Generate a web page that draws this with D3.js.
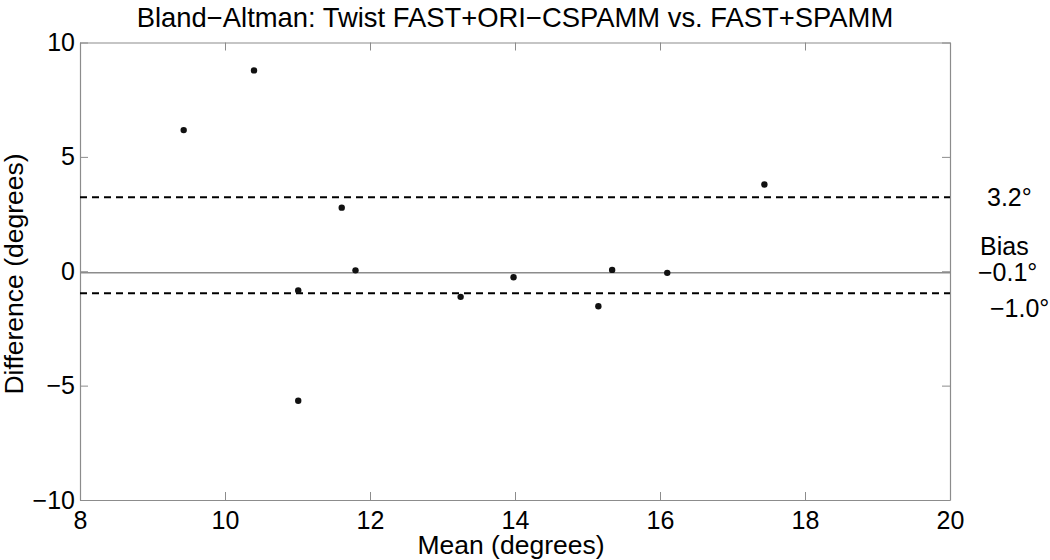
<!DOCTYPE html>
<html lang="en">
<head>
  <meta charset="UTF-8" />
  <title>Bland-Altman</title>
  <script src="https://d3js.org/d3.v7.min.js"></script>
  <style>
    body { margin: 0; background: #fff; }
    svg { display: block; font-family: "Liberation Sans", Arial, sans-serif; }
    .axis path, .axis line { stroke: #8c8c8c; }
    .axis text { fill: #000; font-size: 25px; font-family: "Liberation Sans", Arial, sans-serif; }
  </style>
</head>
<body>
<script>
// means and differences
const meanVals = [9.43, 10.40, 11.61, 11.80, 11.01, 11.01, 13.25, 13.98, 15.15, 15.34, 16.10, 17.44];
const diffVals = [6.17, 8.78, 2.78, 0.04, -0.84, -5.66, -1.12, -0.26, -1.53, 0.06, -0.07, 3.79];
const bias = -0.07;
const limits = [3.24, -0.96];
const xTicks = [8, 10, 12, 14, 16, 18, 20];
const yTicks = [-10, -5, 0, 5, 10];
const rightValues = [3.24, -0.07, -0.07, -0.96];
const rightTexts = ["3.2°", "Bias", "−0.1°", "−1.0°"];

const width = 1050, height = 560;
const margin = { left: 80, right: 100, top: 42.5, bottom: 60 };

const svg = d3.select("body").append("svg")
  .attr("width", width).attr("height", height);

const x = d3.scaleLinear().domain([8, 20]).range([margin.left, width - margin.right]);
const y = d3.scaleLinear().domain([-10, 10]).range([height - margin.bottom, margin.top]);

const fmt = d => d < 0 ? "−" + Math.abs(d) : String(d);

// axes, MATLAB style box with inward ticks
svg.append("g").attr("class", "axis")
  .attr("transform", `translate(0,${y(-10)})`)
  .call(d3.axisBottom(x).tickValues(xTicks).tickSizeInner(-8).tickSizeOuter(0).tickPadding(11).tickFormat(fmt));
svg.append("g").attr("class", "axis")
  .attr("transform", `translate(0,${y(10)})`)
  .call(d3.axisTop(x).tickValues(xTicks).tickSizeInner(-8).tickSizeOuter(0).tickFormat(""));
svg.append("g").attr("class", "axis")
  .attr("transform", `translate(${x(8)},0)`)
  .call(d3.axisLeft(y).tickValues(yTicks).tickSizeInner(-8).tickSizeOuter(0).tickPadding(5).tickFormat(fmt));
svg.append("g").attr("class", "axis")
  .attr("transform", `translate(${x(20)},0)`)
  .call(d3.axisRight(y).tickValues(yTicks).tickSizeInner(-8).tickSizeOuter(0).tickFormat(""));

svg.selectAll(".axis .domain").attr("stroke-width", 1.2);

// bias line
svg.append("line")
  .attr("x1", x(8)).attr("x2", x(20))
  .attr("y1", y(bias)).attr("y2", y(bias))
  .attr("stroke", "#8c8c8c").attr("stroke-width", 1.5);

// limits of agreement
svg.selectAll(".loa").data(limits).join("line")
  .attr("class", "loa")
  .attr("x1", x(8)).attr("x2", x(20))
  .attr("y1", d => y(d)).attr("y2", d => y(d))
  .attr("stroke", "#000").attr("stroke-width", 2)
  .attr("stroke-dasharray", "7,5");

// points
svg.selectAll(".pt").data(meanVals).join("circle")
  .attr("class", "pt")
  .attr("cx", d => x(d))
  .attr("cy", (d, i) => y(diffVals[i]))
  .attr("r", 3.2)
  .attr("fill", "#111");

// labels on the right of the box
const labelX = [987, 980, 978, 990];
const labelDy = [9, -18, 8, 24];
svg.selectAll(".rl").data(rightValues).join("text")
  .attr("class", "rl")
  .attr("x", (d, i) => labelX[i])
  .attr("y", (d, i) => y(d) + labelDy[i])
  .attr("font-size", 25)
  .text((d, i) => rightTexts[i]);

// title and axis labels
svg.append("text")
  .attr("x", (x(8) + x(20)) / 2).attr("y", 27)
  .attr("text-anchor", "middle").attr("font-size", 27.4)
  .text("Bland−Altman: Twist FAST+ORI−CSPAMM vs. FAST+SPAMM");

svg.append("text")
  .attr("x", 511).attr("y", 554)
  .attr("text-anchor", "middle").attr("font-size", 26.5)
  .text("Mean (degrees)");

svg.append("text")
  .attr("transform", `translate(23,274) rotate(-90)`)
  .attr("text-anchor", "middle").attr("font-size", 26.5)
  .text("Difference (degrees)");
</script>
</body>
</html>
